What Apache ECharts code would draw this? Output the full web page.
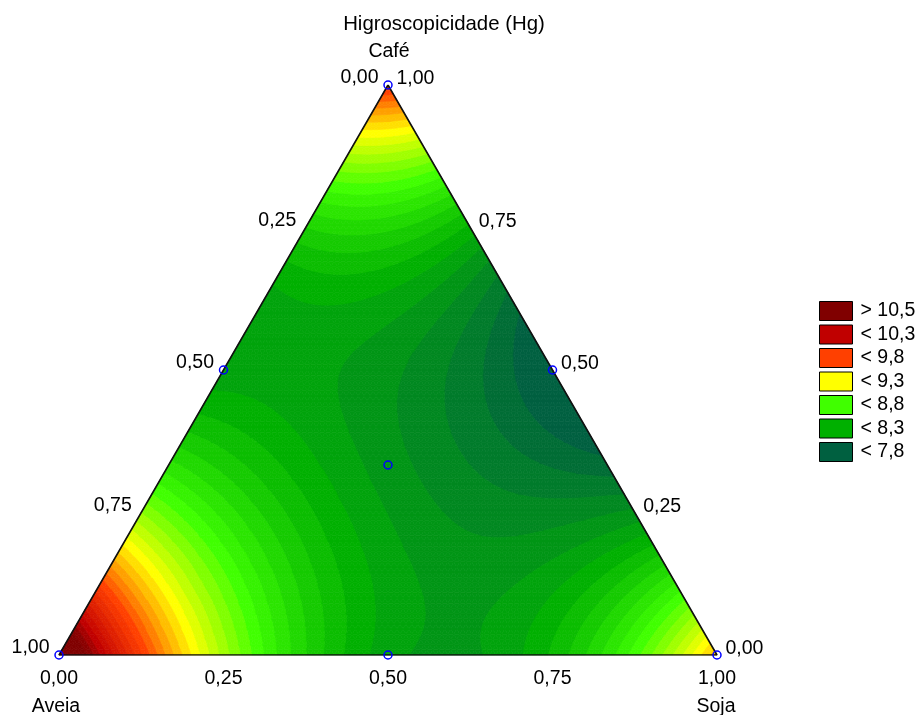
<!DOCTYPE html>
<html><head><meta charset="utf-8">
<script src="https://cdn.jsdelivr.net/npm/echarts@6/dist/echarts.min.js"></script>
<style>html,body{margin:0;padding:0;background:#fff}#c{width:920px;height:715px}</style>
</head><body><div id="c"></div>
<script>
// ---- data ----
const componentNames = ['Aveia', 'Café', 'Soja'];
// simplex-centroid design (fractions of Aveia, Café, Soja) and measured Hg
const designAveia = [1, 0, 0, 0.5, 0.5, 0, 1/3];
const designCafe  = [0, 1, 0, 0.5, 0, 0.5, 1/3];
const designSoja  = [0, 0, 1, 0, 0.5, 0.5, 1/3];
const hgValues    = [10.85, 9.85, 9.45, 8.17, 8.17, 7.68, 8.09];
const tickValues  = [0, 0.25, 0.5, 0.75, 1];
const tickLabels  = ['0,00', '0,25', '0,50', '0,75', '1,00'];
const legendLabels = ['> 10,5', '< 10,3', '< 9,8', '< 9,3', '< 8,8', '< 8,3', '< 7,8'];
const legendLevels = [10.5, 10.3, 9.8, 9.3, 8.8, 8.3, 7.8];
const legendColors = ['#800000', '#c00000', '#ff4000', '#ffff00', '#40ff00', '#00b000', '#006040'];
const levelStep = 0.5 / 6;
const chartTitle = 'Higroscopicidade (Hg)';

// ---- special cubic mixture model fitted to the design points ----
function terms(a, c, s) { return [a, c, s, a * c, a * s, c * s, a * c * s]; }
function solve(M, y) {
  const n = y.length, A = M.map((r, i) => r.concat([y[i]]));
  for (let i = 0; i < n; i++) {
    let p = i; for (let k = i + 1; k < n; k++) if (Math.abs(A[k][i]) > Math.abs(A[p][i])) p = k;
    [A[i], A[p]] = [A[p], A[i]];
    for (let k = 0; k < n; k++) if (k !== i) {
      const f = A[k][i] / A[i][i];
      for (let j = i; j <= n; j++) A[k][j] -= f * A[i][j];
    }
  }
  return A.map((r, i) => r[n] / r[i]);
}
const coef = solve(designAveia.map((a, i) => terms(a, designCafe[i], designSoja[i])), hgValues);
function model(a, c, s) { return terms(a, c, s).reduce((t, v, i) => t + v * coef[i], 0); }

// ---- colours ----
const ancV = legendLevels.slice().reverse(), ancC = legendColors.slice().reverse();
function hex(h) { return [1, 3, 5].map(i => parseInt(h.substr(i, 2), 16)); }
function colorAt(v) {
  if (v <= ancV[0]) return ancC[0];
  if (v >= ancV[ancV.length - 1]) return ancC[ancC.length - 1];
  let i = 0; while (v > ancV[i + 1]) i++;
  const t = (v - ancV[i]) / (ancV[i + 1] - ancV[i]);
  const a = hex(ancC[i]), b = hex(ancC[i + 1]);
  return 'rgb(' + a.map((x, k) => Math.round(x + (b[k] - x) * t)).join(',') + ')';
}
const baseLevel = ancV[0];
function bandOf(v) { return v < baseLevel ? 0 : Math.floor((v - baseLevel) / levelStep + 1e-9) + 1; }
function bandColor(b) { return colorAt(baseLevel + levelStep * b); }

// ---- geometry: ternary -> cartesian data coords ----
const H = Math.sqrt(3) / 2;
function toXY(c, s) { return [s + c / 2, c * H]; }

// ---- isoband polygons on a triangular lattice ----
function clip(poly, lev, above) {
  const out = [];
  for (let i = 0; i < poly.length; i++) {
    const P = poly[i], Q = poly[(i + 1) % poly.length];
    const pin = above ? P[2] >= lev : P[2] < lev, qin = above ? Q[2] >= lev : Q[2] < lev;
    if (pin) out.push(P);
    if (pin !== qin) {
      const t = (lev - P[2]) / (Q[2] - P[2]);
      out.push([P[0] + t * (Q[0] - P[0]), P[1] + t * (Q[1] - P[1]), lev]);
    }
  }
  return out;
}
const N = 110;
const bandData = [];
function pushPoly(poly, b) {
  const v = [b, poly.length];
  for (let k = 0; k < 6; k++) {
    if (k < poly.length) { const xy = toXY(poly[k][0], poly[k][1]); v.push(xy[0], xy[1]); }
    else v.push(0, 0);
  }
  bandData.push(v);
}
function P(i, j) { const c = i / N, s = j / N; return [c, s, model(1 - c - s, c, s)]; }
function addTri(tri) {
  const vs = tri.map(p => p[2]);
  const b0 = bandOf(Math.min(...vs)), b1 = bandOf(Math.max(...vs));
  if (b0 === b1) { pushPoly(tri, b0); return; }
  for (let b = b0; b <= b1; b++) {
    let poly = tri;
    if (b > 0) poly = clip(poly, baseLevel + levelStep * (b - 1), true);
    if (poly.length >= 3) poly = clip(poly, baseLevel + levelStep * b, false);
    if (poly.length >= 3) pushPoly(poly, b);
  }
}
for (let i = 0; i < N; i++) {
  for (let j = 0; i + j < N; j++) {
    addTri([P(i, j), P(i + 1, j), P(i, j + 1)]);
    if (i + j + 2 <= N) addTri([P(i + 1, j), P(i + 1, j + 1), P(i, j + 1)]);
  }
}

// ---- series ----
const font = "'Liberation Sans', Arial, sans-serif";
const fs = 19.5;
const edge = [[1, 0], [0, 1], [0, 0], [1, 0]].map(p => toXY(p[0], p[1])); // (Café, Soja) of the vertices
const designPts = designCafe.map((c, i) => toXY(c, designSoja[i]));

function tickSeries(pointFn, position, offset, distance) {
  return {
    type: 'scatter', symbolSize: 1, silent: true, z: 5,
    itemStyle: { color: 'rgba(0,0,0,0)', opacity: 1 },
    data: tickValues.map((v, i) => ({ value: pointFn(v), name: tickLabels[i] })),
    label: { show: true, position, distance, offset, formatter: '{b}', color: '#000', fontSize: fs, fontFamily: font }
  };
}

const series = [
  {
    type: 'custom', silent: true, z: 1, progressive: 0, animation: false,
    data: bandData,
    renderItem(params, api) {
      const n = api.value(1), pts = [];
      for (let k = 0; k < n; k++) pts.push(api.coord([api.value(2 + 2 * k), api.value(3 + 2 * k)]));
      const col = bandColor(api.value(0));
      return { type: 'polygon', shape: { points: pts }, style: { fill: col, stroke: col, lineWidth: 0.7 } };
    }
  },
  {
    type: 'line', z: 3, silent: true, symbol: 'none', data: edge,
    lineStyle: { color: '#111', width: 1.6 }
  },
  {
    type: 'scatter', z: 4, silent: true, symbol: 'circle', symbolSize: 8, data: designPts,
    itemStyle: { color: 'rgba(0,0,0,0)', borderColor: '#0000ff', borderWidth: 1.5, opacity: 1 }
  },
  // Aveia axis (left edge): Soja = 0, Café = 1 - v
  tickSeries(v => toXY(1 - v, 0), 'left', [0, -7], 9),
  // Café axis (right edge): Aveia = 0
  tickSeries(v => toXY(v, 1 - v), 'right', [0, -6], 8),
  // Soja axis (bottom edge): Café = 0
  tickSeries(v => toXY(0, v), 'bottom', [0, 0], 13)
];
legendLabels.forEach((name, i) => series.push({
  type: 'scatter', name, data: [], itemStyle: { color: legendColors[i], opacity: 1 }
}));

const chart = echarts.init(document.getElementById('c'), null, { renderer: 'canvas' });
chart.setOption({
  animation: false,
  backgroundColor: '#fff',
  grid: { left: 59, top: 85, width: 658, height: 570 },
  xAxis: { type: 'value', min: 0, max: 1, show: false },
  yAxis: { type: 'value', min: 0, max: H, show: false },
  legend: {
    orient: 'vertical', left: 819, top: 301, padding: 0, itemWidth: 33, itemHeight: 19, itemGap: 3.5,
    icon: 'rect', selectedMode: false,
    itemStyle: { borderColor: '#000', borderWidth: 1, opacity: 1 },
    textStyle: { fontSize: fs, color: '#000', fontFamily: font, padding: [0, 0, 0, 3] },
    data: legendLabels
  },
  graphic: [
    { type: 'text', x: 444, y: 24, style: { text: chartTitle, font: '20.4px ' + font, fill: '#000', textAlign: 'center', textVerticalAlign: 'middle' } },
    { type: 'text', x: 389, y: 52, style: { text: componentNames[1], font: fs + 'px ' + font, fill: '#000', textAlign: 'center', textVerticalAlign: 'middle' } },
    { type: 'text', x: 56, y: 707, style: { text: componentNames[0], font: fs + 'px ' + font, fill: '#000', textAlign: 'center', textVerticalAlign: 'middle' } },
    { type: 'text', x: 716, y: 707, style: { text: componentNames[2], font: fs + 'px ' + font, fill: '#000', textAlign: 'center', textVerticalAlign: 'middle' } }
  ],
  series
});
</script></body></html>
